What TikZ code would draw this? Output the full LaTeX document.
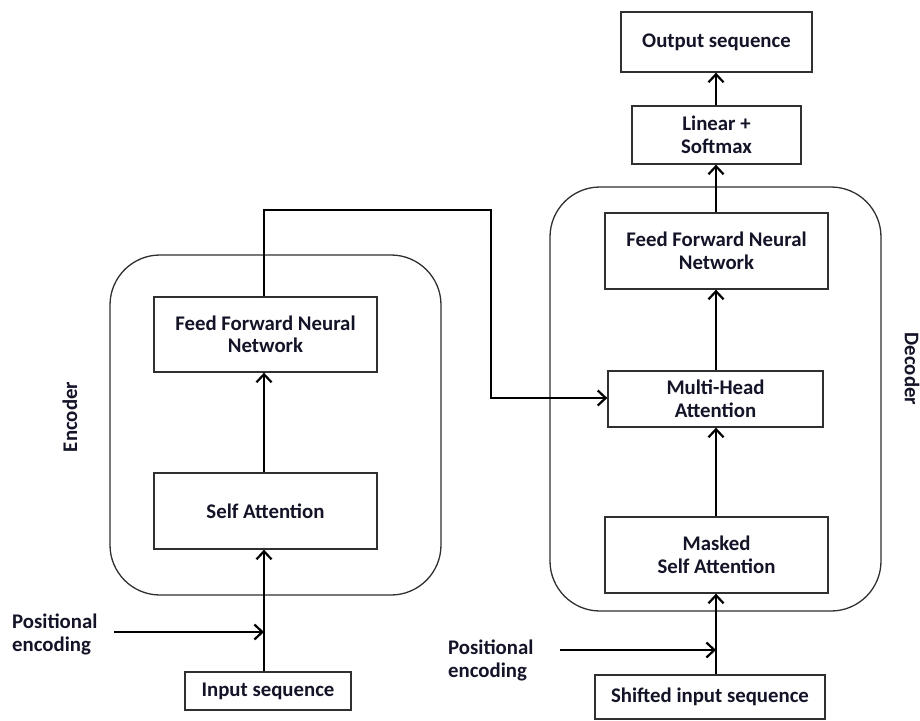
\documentclass[tikz,border=0pt]{standalone}
\usepackage{fontspec}
\setmainfont{Carlito}[BoldFont={Carlito Bold}]
\usetikzlibrary{arrows.meta}
\definecolor{txt}{HTML}{141428}
\definecolor{brd}{HTML}{303030}
\tikzset{
  blk/.style={draw=brd, line width=1.3pt, fill=white, align=center, inner sep=0pt,
    font=\fontsize{20.8}{22.5}\selectfont\bfseries, text=txt},
  lbl/.style={align=left, inner sep=0pt, font=\fontsize{20.8}{23}\selectfont\bfseries, text=txt},
  grp/.style={draw=brd, line width=1.3pt, rounded corners=50pt},
  conn/.style={line width=2.5pt, black},
  arr/.style={conn, -{Straight Barb[length=8pt,width=15pt,line width=2.2pt]}},
}
\begin{document}
\begin{tikzpicture}[x=1pt,y=-1pt]
\useasboundingbox (0,0) rectangle (920,720);
% group frames
\draw[grp] (110,255) rectangle (441,595);
\draw[grp] (550,187) rectangle (881,611);
% encoder
\node[blk, minimum width=223pt, minimum height=75pt] (effn) at (265.5,334.5) {Feed Forward Neural\\Network};
\node[blk, minimum width=223pt, minimum height=76pt] (esa) at (265.5,511) {Self Attention};
\node[blk, minimum width=166pt, minimum height=38pt] (inp) at (268,691) {Input sequence};
\node[lbl, anchor=west] (pe1) at (12,634) {Positional\\encoding};
\node[lbl, rotate=90] (enc) at (70,417) {Encoder};
% decoder
\node[blk, minimum width=191pt, minimum height=60pt] (out) at (716.5,42) {Output sequence};
\node[blk, minimum width=169pt, minimum height=58pt] (lin) at (716.5,135) {Linear +\\Softmax};
\node[blk, minimum width=223pt, minimum height=76pt] (dffn) at (716.5,251) {Feed Forward Neural\\Network};
\node[blk, minimum width=215pt, minimum height=56pt] (mha) at (715.5,399) {Multi-Head\\Attention};
\node[blk, minimum width=223pt, minimum height=76pt] (msa) at (716.5,555) {Masked\\Self Attention};
\node[blk, minimum width=230pt, minimum height=44pt] (shf) at (710,697) {Shifted input sequence};
\node[lbl, anchor=west] (pe2) at (448,660) {Positional\\encoding};
\node[lbl, rotate=-90] (dec) at (912,369) {Decoder};
% coordinates
\coordinate (ex) at (264,0);
\coordinate (dx) at (716,0);
\coordinate (pe1s) at (114,632);
\coordinate (pe2s) at (560,650);
\coordinate (c1) at (264,210);
\coordinate (c2) at (491,210);
\coordinate (c3) at (491,398);
% encoder connectors
\draw[arr] (inp.north -| ex) -- (esa.south -| ex);
\draw[arr] (pe1s) -- (pe1s -| ex);
\draw[arr] (esa.north -| ex) -- (effn.south -| ex);
\draw[arr] (effn.north -| ex) -- (c1) -- (c2) -- (c3) -- (c3 -| mha.west);
% decoder connectors
\draw[arr] (shf.north -| dx) -- (msa.south -| dx);
\draw[arr] (pe2s) -- (pe2s -| dx);
\draw[arr] (msa.north -| dx) -- (mha.south -| dx);
\draw[arr] (mha.north -| dx) -- (dffn.south -| dx);
\draw[arr] (dffn.north -| dx) -- (lin.south -| dx);
\draw[arr] (lin.north -| dx) -- (out.south -| dx);
\end{tikzpicture}
\end{document}
